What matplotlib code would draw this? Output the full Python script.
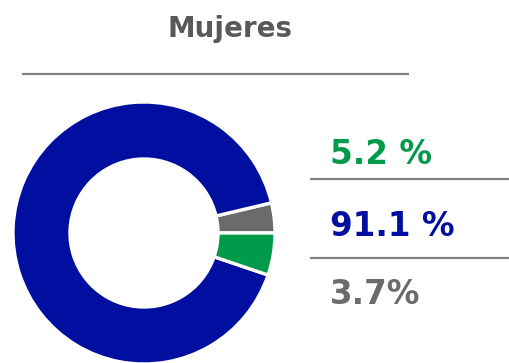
import matplotlib
matplotlib.use("Agg")
import matplotlib.pyplot as plt

# Shares by group
labels = ["Otro", "Grupo B", "Grupo A"]
values = [3.7, 91.1, 5.2]
colors = ["#6b6b6b", "#000f9f", "#009a4a"]

title = "Mujeres"
value_texts = ["5.2 %", "91.1 %", "3.7%"]
text_colors = ["#009a4a", "#000f9f", "#6b6b6b"]

W, H = 510, 363
fig = plt.figure(figsize=(W / 100, H / 100), dpi=100)
ax = fig.add_axes([0, 0, 1, 1])

# donut, drawn in pixel coordinates (y measured from the bottom)
ax.pie(values, colors=colors, startangle=0, counterclock=True,
       center=(144, H - 233), radius=131,
       wedgeprops=dict(width=57, edgecolor="white", linewidth=2.4))

ax.set_xlim(0, W)
ax.set_ylim(0, H)
ax.set_aspect("equal")
ax.axis("off")

# title and rule beneath it
ax.text(230, H - 29, title, ha="center", va="center", fontsize=20,
        fontweight="bold", color="#595959")
ax.plot([22, 409], [H - 74, H - 74], color="#808080", lw=1.6,
        solid_capstyle="butt")

# value labels on the right with separators
ys = [154, 226, 295]
for txt, c, y in zip(value_texts, text_colors, ys):
    ax.text(330, H - y, txt, ha="left", va="center", fontsize=23.5,
            fontweight="bold", color=c)
for y in [179, 258]:
    ax.plot([310, W], [H - y, H - y], color="#808080", lw=1.6,
            solid_capstyle="butt")

fig.savefig("out.png", dpi=100)
